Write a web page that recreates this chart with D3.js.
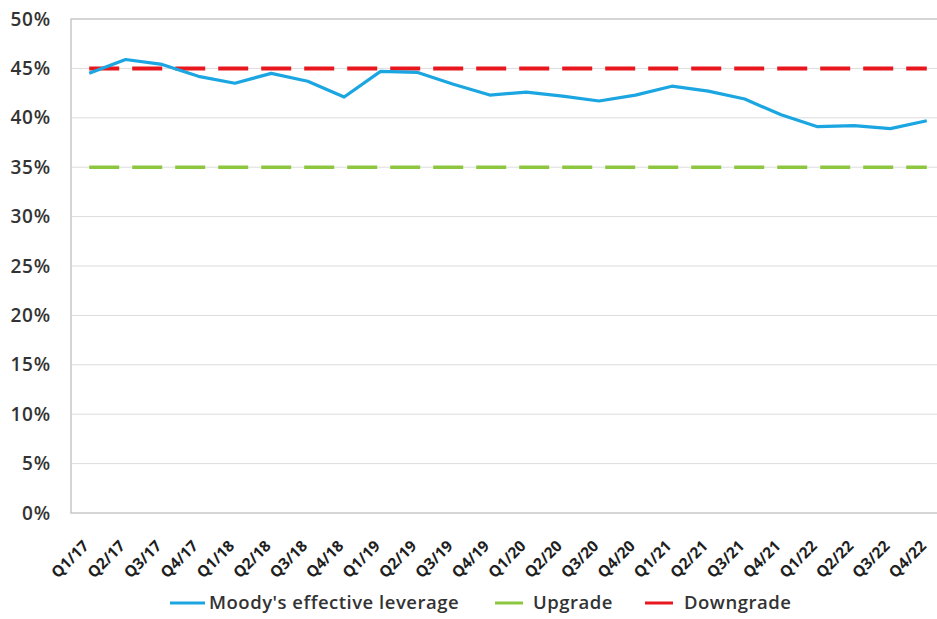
<!DOCTYPE html>
<html>
<head>
<meta charset="utf-8">
<script src="https://cdn.jsdelivr.net/npm/d3@7"></script>
<style>
  html, body { margin: 0; padding: 0; background: #fff; }
  svg { display: block; font-family: "Open Sans", "DejaVu Sans", sans-serif; }
</style>
</head>
<body>
<svg id="chart" width="937" height="619"></svg>
<script>
// Quarterly categories
const quarters = [
  "Q1/17","Q2/17","Q3/17","Q4/17",
  "Q1/18","Q2/18","Q3/18","Q4/18",
  "Q1/19","Q2/19","Q3/19","Q4/19",
  "Q1/20","Q2/20","Q3/20","Q4/20",
  "Q1/21","Q2/21","Q3/21","Q4/21",
  "Q1/22","Q2/22","Q3/22","Q4/22"
];
// Moody's effective leverage (%)
const leverage = [
  44.5, 45.9, 45.4, 44.2,
  43.5, 44.5, 43.7, 42.1,
  44.7, 44.6, 43.4, 42.3,
  42.6, 42.2, 41.7, 42.3,
  43.2, 42.7, 41.9, 40.3,
  39.1, 39.2, 38.9, 39.7
];
// Rating thresholds (%)
const upgradeLevel = 35;
const downgradeLevel = 45;
const yTicks = [0, 5, 10, 15, 20, 25, 30, 35, 40, 45, 50];
const legendItems = ["Moody's effective leverage", "Upgrade", "Downgrade"];

const colors = { line: "#1ba6e1", up: "#8dc63f", down: "#e8171d" };

const svg = d3.select("#chart");
const plotLeft = 71, plotRight = 945, plotTop = 19, plotBottom = 513;

const x = d3.scalePoint().domain(quarters).range([plotLeft, plotRight]).padding(0.5);
const y = d3.scaleLinear().domain([0, 50]).range([plotBottom, plotTop]);

// horizontal gridlines
svg.append("g")
  .selectAll("line")
  .data(yTicks.filter(t => t > 0 && t < 50))
  .join("line")
  .attr("x1", plotLeft).attr("x2", plotRight)
  .attr("y1", d => y(d)).attr("y2", d => y(d))
  .attr("stroke", "#dcdcdc").attr("stroke-width", 1);

// plot frame
svg.append("rect")
  .attr("x", plotLeft).attr("y", plotTop)
  .attr("width", plotRight - plotLeft).attr("height", plotBottom - plotTop)
  .attr("fill", "none").attr("stroke", "#c8c8c8").attr("stroke-width", 1.5);

// y axis labels
const yAxis = d3.axisLeft(y).tickValues(yTicks).tickFormat(d => d + "%").tickSize(0).tickPadding(20);
const gy = svg.append("g").attr("transform", `translate(${plotLeft},0)`).call(yAxis);
gy.select(".domain").remove();
gy.selectAll("text")
  .attr("font-size", 19).attr("font-weight", 600).attr("fill", "#333")
  .attr("letter-spacing", 0.8)
  .attr("font-family", "'Open Sans', sans-serif");

// x axis labels (rotated)
const xAxis = d3.axisBottom(x).tickSize(0).tickPadding(0);
const gx = svg.append("g").attr("transform", `translate(0,${plotBottom})`).call(xAxis);
gx.select(".domain").remove();
gx.selectAll("text")
  .attr("font-size", 15.5).attr("font-weight", 700).attr("fill", "#1e1e1e")
  .attr("font-family", "'Open Sans', sans-serif")
  .attr("text-anchor", "end")
  .attr("y", 0)
  .attr("dy", 0)
  .attr("transform", "translate(0,34) rotate(-45)");

// threshold lines
const xFirst = x(quarters[0]), xLast = x(quarters[quarters.length - 1]);
svg.append("line")
  .attr("x1", xFirst).attr("x2", xLast)
  .attr("y1", y(upgradeLevel)).attr("y2", y(upgradeLevel))
  .attr("stroke", colors.up).attr("stroke-width", 3.5)
  .attr("stroke-dasharray", "30,13");
svg.append("line")
  .attr("x1", xFirst).attr("x2", xLast)
  .attr("y1", y(downgradeLevel)).attr("y2", y(downgradeLevel))
  .attr("stroke", colors.down).attr("stroke-width", 4)
  .attr("stroke-dasharray", "30,13");

// leverage line
const line = d3.line().x((d, i) => x(quarters[i])).y(d => y(d));
svg.append("path")
  .datum(leverage)
  .attr("d", line)
  .attr("fill", "none")
  .attr("stroke", colors.line).attr("stroke-width", 3.2)
  .attr("stroke-linejoin", "round");

// legend
const legendY = 603;
const legendPos = [
  { x1: 170, x2: 205, tx: 209, color: colors.line },
  { x1: 495, x2: 523, tx: 533, color: colors.up },
  { x1: 645, x2: 673, tx: 684, color: colors.down }
];
const lg = svg.append("g");
legendItems.forEach((label, i) => {
  const p = legendPos[i];
  lg.append("line")
    .attr("x1", p.x1).attr("x2", p.x2)
    .attr("y1", legendY).attr("y2", legendY)
    .attr("stroke", p.color).attr("stroke-width", 3);
  lg.append("text")
    .attr("x", p.tx).attr("y", legendY)
    .attr("dy", "0.35em")
    .attr("font-size", 18.5).attr("font-weight", 600).attr("fill", "#333")
    .attr("letter-spacing", 0.5)
    .text(label);
});
</script>
</body>
</html>
